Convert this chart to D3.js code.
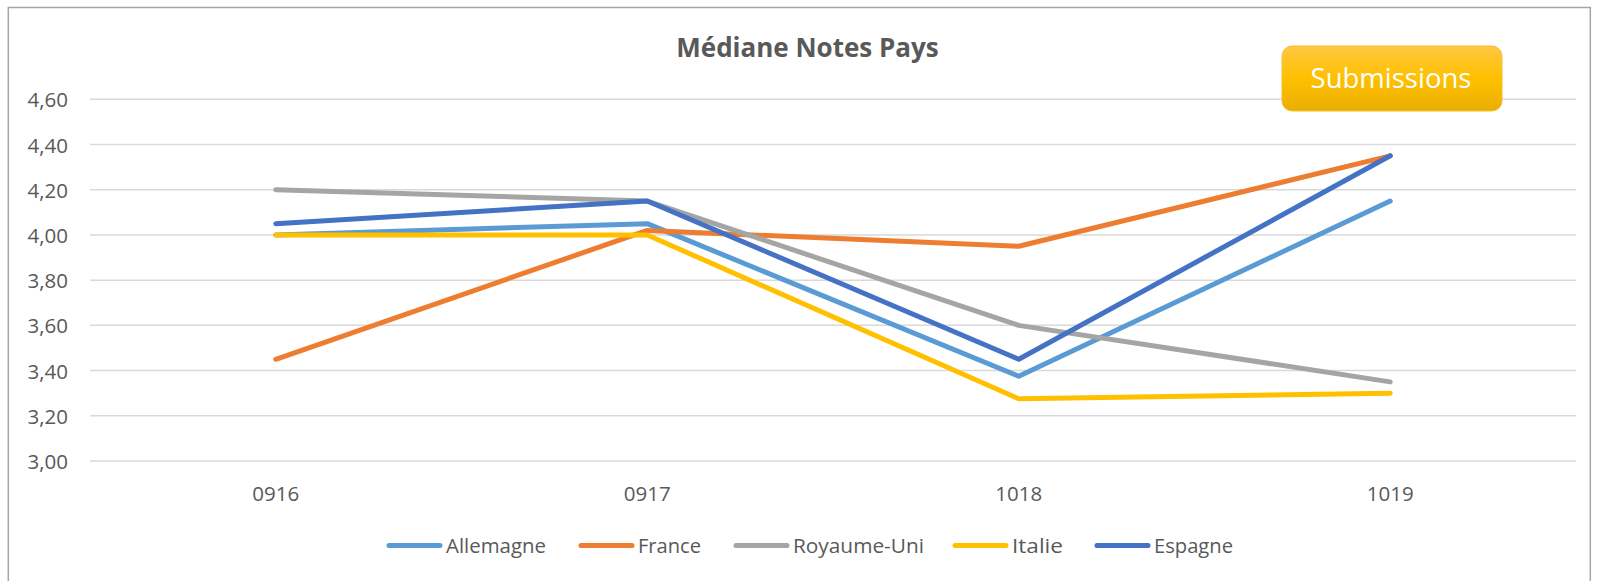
<!DOCTYPE html>
<html>
<head>
<meta charset="utf-8">
<script src="https://cdn.jsdelivr.net/npm/d3@7"></script>
<style>
  html, body { margin: 0; padding: 0; background: #fff; }
  svg { display: block; }
  text { font-family: "Open Sans", "Noto Sans", sans-serif; }
</style>
</head>
<body>
<svg id="chart" width="1602" height="581"></svg>
<script>
const categories = ["0916", "0917", "1018", "1019"];
const seriesNames = ["Allemagne", "France", "Royaume-Uni", "Italie", "Espagne"];
const allemagne = [4.00, 4.05, 3.375, 4.15];
const france = [3.45, 4.02, 3.95, 4.35];
const royaumeUni = [4.20, 4.15, 3.60, 3.35];
const italie = [4.00, 4.00, 3.275, 3.30];
const espagne = [4.05, 4.15, 3.45, 4.35];
const yTicks = [3.0, 3.2, 3.4, 3.6, 3.8, 4.0, 4.2, 4.4, 4.6];
const colors = ["#5B9BD5", "#ED7D31", "#A5A5A5", "#FFC000", "#4472C4"];

const seriesValues = [allemagne, france, royaumeUni, italie, espagne];
const series = seriesNames.map((n, i) => ({ name: n, values: seriesValues[i], color: colors[i] }));

const svg = d3.select("#chart");
const plot = { left: 90, right: 1576, top: 99.3, bottom: 461 };

// outer chart border
svg.append("rect")
  .attr("x", 8.3).attr("y", 7.5)
  .attr("width", 1582).attr("height", 600)
  .attr("fill", "#fff").attr("stroke", "#A6A6A6").attr("stroke-width", 1.5);

const x = d3.scaleBand().domain(categories).range([plot.left, plot.right]).padding(0);
const y = d3.scaleLinear().domain([3.0, 4.6]).range([plot.bottom, plot.top]);

// gridlines
svg.append("g").selectAll("line").data(yTicks).join("line")
  .attr("x1", plot.left).attr("x2", plot.right)
  .attr("y1", d => y(d)).attr("y2", d => y(d))
  .attr("stroke", "#D9D9D9").attr("stroke-width", 1.5);

// y axis labels
const fmt = d => d.toFixed(2).replace(".", ",");
const yAxis = d3.axisLeft(y).tickValues(yTicks).tickFormat(fmt).tickSize(0).tickPadding(0);
const gy = svg.append("g").attr("transform", "translate(68,1)").call(yAxis);
gy.select(".domain").remove();
gy.selectAll("text").attr("fill", "#595959").style("font-size", "20.5px").style("font-family", "'Open Sans', sans-serif");

// x axis labels
const xAxis = d3.axisBottom(x).tickSize(0).tickPadding(0);
const gx = svg.append("g").attr("transform", "translate(0,486)").call(xAxis);
gx.select(".domain").remove();
gx.selectAll("text").attr("fill", "#595959").style("font-size", "20.5px").style("font-family", "'Open Sans', sans-serif");

// lines
const line = d3.line()
  .x((d, i) => x(categories[i]) + x.bandwidth() / 2)
  .y(d => y(d));
svg.append("g").selectAll("path").data(series).join("path")
  .attr("d", d => line(d.values))
  .attr("fill", "none")
  .attr("stroke", d => d.color)
  .attr("stroke-width", 5)
  .attr("stroke-linecap", "round")
  .attr("stroke-linejoin", "round");

// title
svg.append("text")
  .attr("x", 807.5).attr("y", 57)
  .attr("text-anchor", "middle")
  .attr("fill", "#595959")
  .style("font-size", "26px").style("font-weight", "bold")
  .text("Médiane Notes Pays");

// Submissions button
const defs = svg.append("defs");
const grad = defs.append("linearGradient").attr("id", "btnGrad").attr("x1", 0).attr("y1", 0).attr("x2", 0).attr("y2", 1);
grad.append("stop").attr("offset", "0%").attr("stop-color", "#FFC842");
grad.append("stop").attr("offset", "50%").attr("stop-color", "#FFC000");
grad.append("stop").attr("offset", "100%").attr("stop-color", "#E8AE00");
svg.append("rect")
  .attr("x", 1282).attr("y", 46).attr("width", 220).attr("height", 65)
  .attr("rx", 10).attr("ry", 10)
  .attr("fill", "url(#btnGrad)").attr("stroke", "#F5C030").attr("stroke-width", 1);
svg.append("text")
  .attr("x", 1391).attr("y", 88)
  .attr("text-anchor", "middle").attr("fill", "#fff")
  .style("font-size", "27.5px")
  .text("Submissions");

// legend
const legendX = [387, 579, 734, 953, 1095];
const legendTextW = [100, 63, 131, 51, 79];
const lg = svg.append("g").selectAll("g").data(series).join("g")
  .attr("transform", (d, i) => `translate(${legendX[i]},545.5)`);
lg.append("line").attr("x1", 2).attr("x2", 53).attr("y1", 0).attr("y2", 0)
  .attr("stroke", d => d.color).attr("stroke-width", 5).attr("stroke-linecap", "round");
lg.append("text").attr("x", 59).attr("y", 7)
  .attr("fill", "#595959").style("font-size", "20px")
  .attr("textLength", (d, i) => legendTextW[i]).attr("lengthAdjust", "spacingAndGlyphs")
  .text(d => d.name);
</script>
</body>
</html>
